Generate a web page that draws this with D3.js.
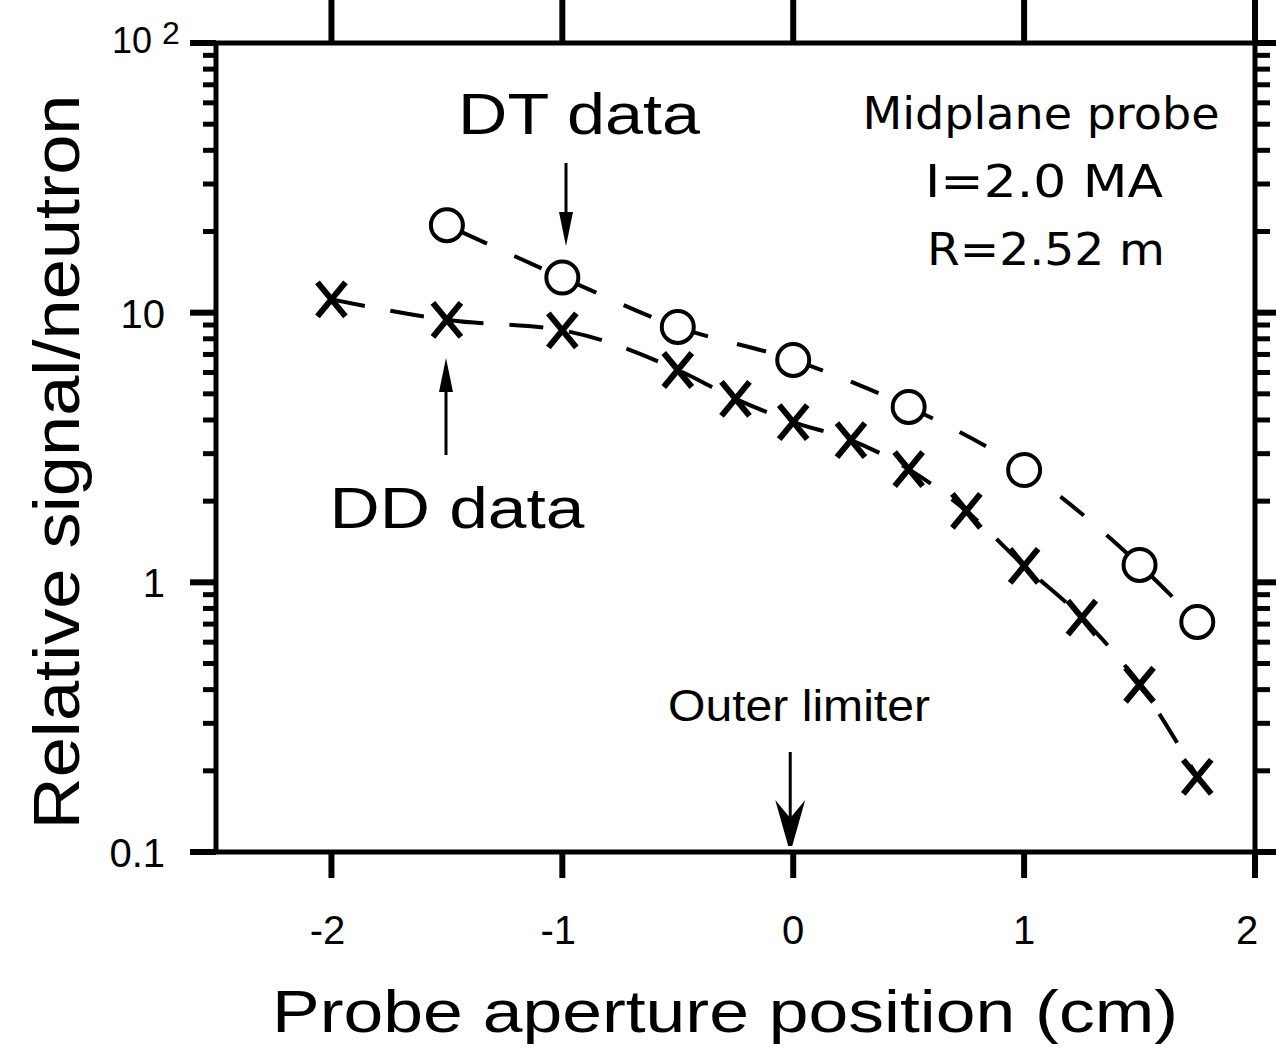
<!DOCTYPE html>
<html><head><meta charset="utf-8">
<script src="https://cdn.jsdelivr.net/npm/d3@7"></script>
<style>body{margin:0;background:#fff}svg{display:block}</style>
</head><body>
<svg id="c" width="1276" height="1051"></svg>
<script>
const xTicks = [-2, -1, 0, 1, 2];
const xTickLabels = ["-2", "-1", "0", "1", "2"];
const yMajor = [0.1, 1, 10, 100];
const yTickLabels = ["0.1", "1", "10", "10"];
const dtX = [-1.5, -1, -0.5, 0, 0.5, 1, 1.5, 1.75];
const dtY = [21.1, 13.5, 8.85, 6.68, 4.47, 2.61, 1.16, 0.713];
const ddX = [-2, -1.5, -1, -0.5, -0.25, 0, 0.25, 0.5, 0.75, 1, 1.25, 1.5, 1.75];
const ddY = [11.2, 9.4, 8.6, 6.13, 4.79, 3.93, 3.37, 2.63, 1.84, 1.15, 0.74, 0.417, 0.19];

const svg = d3.select("#c");
const L = 216, R = 1255, T = 43, B = 852;
const x = d3.scaleLinear().domain([-2.5, 2]).range([L, R]);
const y = d3.scaleLog().domain([0.1, 100]).range([B, T]);
const F = "'Liberation Sans Narrow', 'Liberation Sans', Arial, sans-serif";
const F2 = "'Liberation Sans', Arial, sans-serif";
const G = "'DejaVu Sans', Verdana, sans-serif";

const minor = [];
for (let e = -1; e < 2; e++) for (let m = 2; m <= 9; m++) minor.push(m * Math.pow(10, e));

const g = svg.append("g");
g.selectAll(".lmin").data(minor).join("line")
  .attr("x1", L - 13).attr("x2", L).attr("y1", d => y(d)).attr("y2", d => y(d))
  .attr("stroke", "#000").attr("stroke-width", 5);
g.selectAll(".lmaj").data(yMajor).join("line")
  .attr("x1", L - 26).attr("x2", L).attr("y1", d => y(d)).attr("y2", d => y(d))
  .attr("stroke", "#000").attr("stroke-width", 6);
g.selectAll(".rmin").data(minor).join("line")
  .attr("x1", R).attr("x2", R + 15).attr("y1", d => y(d)).attr("y2", d => y(d))
  .attr("stroke", "#000").attr("stroke-width", 5);
g.selectAll(".rmaj").data(yMajor).join("line")
  .attr("x1", R).attr("x2", R + 30).attr("y1", d => y(d)).attr("y2", d => y(d))
  .attr("stroke", "#000").attr("stroke-width", 6);
g.selectAll(".bt").data(xTicks).join("line")
  .attr("x1", d => x(d)).attr("x2", d => x(d)).attr("y1", B).attr("y2", B + 26)
  .attr("stroke", "#000").attr("stroke-width", 6);
g.selectAll(".tt").data(xTicks).join("line")
  .attr("x1", d => x(d)).attr("x2", d => x(d)).attr("y1", T).attr("y2", 0)
  .attr("stroke", "#000").attr("stroke-width", 6);
g.append("rect").attr("x", L).attr("y", T).attr("width", R - L).attr("height", B - T)
  .attr("fill", "none").attr("stroke", "#000").attr("stroke-width", 5);

g.selectAll(".xl").data(xTicks).join("text")
  .attr("x", (d, i) => x(d) - (i === 4 ? 8 : 0) - (d < 0 ? 4 : 0)).attr("y", 944)
  .attr("text-anchor", "middle").attr("font-family", F).attr("font-size", 40)
  .text((d, i) => xTickLabels[i]);
g.selectAll(".yl").data(yMajor).join("text")
  .attr("x", d => d === 100 ? 152 : 165).attr("y", d => y(d) + (d === 100 ? 10 : 15))
  .attr("text-anchor", "end").attr("font-family", F2).attr("font-size", d => d === 100 ? 36 : 40)
  .text((d, i) => yTickLabels[i]);
g.append("text").attr("x", 162).attr("y", 44).attr("font-family", F2).attr("font-size", 32).text("2");

svg.append("text").attr("x", 725).attr("y", 1032).attr("text-anchor", "middle")
  .attr("font-family", F).attr("font-size", 60)
  .attr("textLength", 906).attr("lengthAdjust", "spacingAndGlyphs")
  .text("Probe aperture position (cm)");
svg.append("text").attr("transform", "translate(79,462) rotate(-90)").attr("text-anchor", "middle")
  .attr("font-family", F).attr("font-size", 64)
  .attr("textLength", 735).attr("lengthAdjust", "spacingAndGlyphs")
  .text("Relative signal/neutron");

const line = d3.line().x(d => x(d[0])).y(d => y(d[1])).curve(d3.curveMonotoneX);
const dt = dtX.map((v, i) => [v, dtY[i]]);
const dd = ddX.map((v, i) => [v, ddY[i]]);
svg.append("path").attr("d", line(dd)).attr("fill", "none").attr("stroke", "#000")
  .attr("stroke-width", 4).attr("stroke-dasharray", "34,26");
svg.append("path").attr("d", line(dt)).attr("fill", "none").attr("stroke", "#000")
  .attr("stroke-width", 4).attr("stroke-dasharray", "30,30").attr("stroke-dashoffset", -14);

svg.selectAll(".dtm").data(dt).join("circle")
  .attr("cx", d => x(d[0])).attr("cy", d => y(d[1])).attr("r", 16)
  .attr("fill", "#fff").attr("stroke", "#000").attr("stroke-width", 4);
svg.selectAll(".ddm").data(dd).join("path")
  .attr("transform", d => `translate(${x(d[0])},${y(d[1])})`)
  .attr("d", "M-14,-17L14,17M14,-17L-14,17")
  .attr("fill", "none").attr("stroke", "#000").attr("stroke-width", 6);

svg.append("text").attr("x", 579).attr("y", 134).attr("text-anchor", "middle")
  .attr("font-family", F).attr("font-size", 58)
  .attr("textLength", 242).attr("lengthAdjust", "spacingAndGlyphs").text("DT data");
svg.append("text").attr("x", 457).attr("y", 528).attr("text-anchor", "middle")
  .attr("font-family", F).attr("font-size", 58)
  .attr("textLength", 255).attr("lengthAdjust", "spacingAndGlyphs").text("DD data");
svg.append("text").attr("x", 799).attr("y", 721).attr("text-anchor", "middle")
  .attr("font-family", F).attr("font-size", 44)
  .attr("textLength", 262).attr("lengthAdjust", "spacingAndGlyphs").text("Outer limiter");
const info = ["Midplane probe", "I=2.0 MA", "R=2.52 m"];
const infoW = [357, 238, 238];
svg.selectAll(".info").data(info).join("text")
  .attr("x", (d, i) => [1041, 1044, 1046][i]).attr("y", (d, i) => 129 + i * 68)
  .attr("text-anchor", "middle").attr("font-family", G).attr("font-size", 45)
  .attr("textLength", (d, i) => infoW[i]).attr("lengthAdjust", "spacingAndGlyphs")
  .text(d => d);

function arrowDown(cx, y0, y1, hl, hw) {
  svg.append("line").attr("x1", cx).attr("x2", cx).attr("y1", y0).attr("y2", y1 - hl + 2)
    .attr("stroke", "#000").attr("stroke-width", 3);
  svg.append("path").attr("d", `M${cx - hw},${y1 - hl}L${cx + hw},${y1 - hl}L${cx},${y1}Z`).attr("fill", "#000");
}
arrowDown(566, 163, 246, 34, 7);
svg.append("line").attr("x1", 446).attr("x2", 446).attr("y1", 455).attr("y2", 390)
  .attr("stroke", "#000").attr("stroke-width", 3);
svg.append("path").attr("d", "M439,392L453,392L446,358Z").attr("fill", "#000");
const ax = x(0) - 3;
svg.append("line").attr("x1", ax).attr("x2", ax).attr("y1", 752).attr("y2", 835)
  .attr("stroke", "#000").attr("stroke-width", 3);
svg.append("path").attr("d", `M${ax - 15},800L${ax},818L${ax + 15},800L${ax + 2},846L${ax - 2},846Z`).attr("fill", "#000");
</script>
</body></html>
